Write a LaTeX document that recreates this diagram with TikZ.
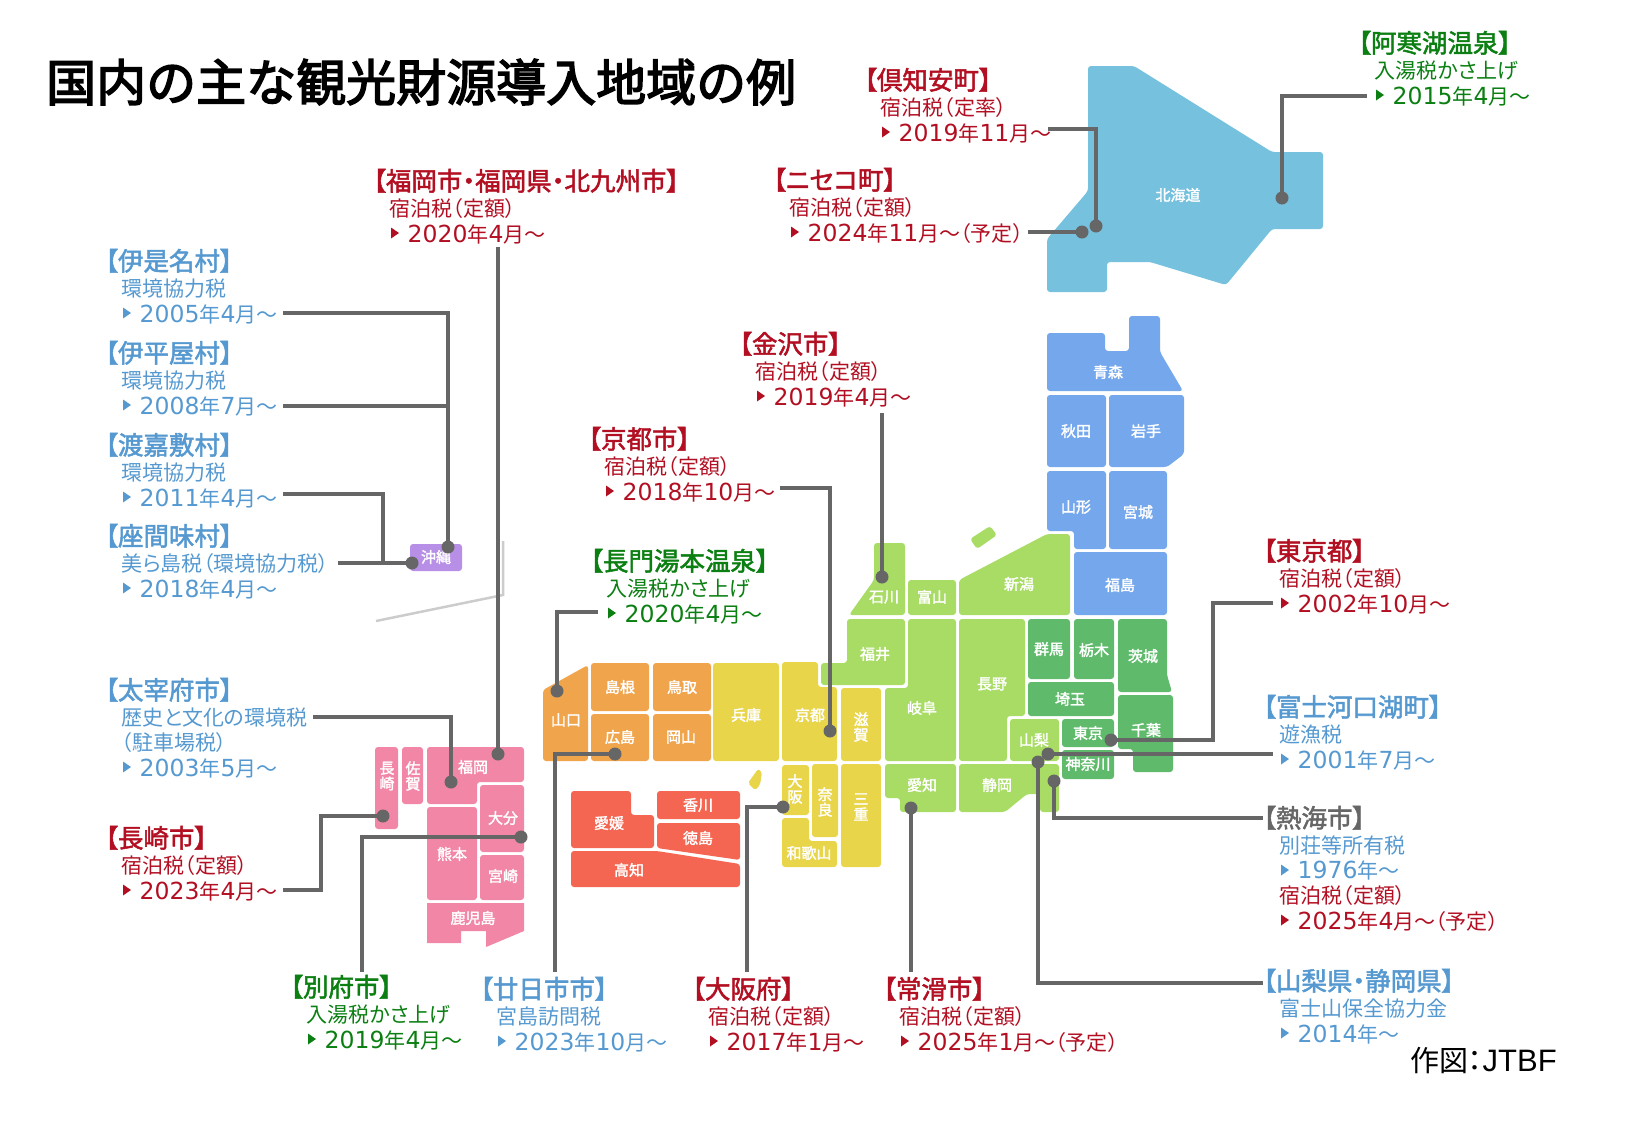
\documentclass[tikz,border=0pt]{standalone}
\usepackage{fontspec}
\setmainfont[RawFeature=+palt,BoldFont={Noto Sans CJK JP},BoldFeatures={FakeBold=2}]{Noto Sans CJK JP}
\newfontfamily\titlefont[FakeBold=3]{Noto Sans CJK JP}
\newfontfamily\dgfont{DejaVu Sans}
\newfontfamily\creditfont{Liberation Sans}
\definecolor{cblue}{HTML}{5599D0}
\definecolor{cred}{HTML}{B20F22}
\definecolor{cgreen}{HTML}{0B7F12}
\definecolor{cgray}{HTML}{666666}
\definecolor{hok}{HTML}{75C1DE}
\definecolor{toh}{HTML}{74A7EC}
\definecolor{chb}{HTML}{A8DC64}
\definecolor{knt}{HTML}{5FBB6B}
\definecolor{kin}{HTML}{E8D54A}
\definecolor{chg}{HTML}{F0A44C}
\definecolor{shk}{HTML}{F46552}
\definecolor{kyu}{HTML}{F186A6}
\definecolor{oki}{HTML}{B88FE6}
\newcommand\dg[1]{{\dgfont\fontsize{23.5}{25}\selectfont #1}}
\newcommand\trimark[3]{\fill[#1] ({#2+1},{#3-5.5}) -- ({#2+9},{#3}) -- ({#2+1},{#3+5.5}) -- cycle;}
\newcommand\blk[7]{%
  \node[hd,text=#4] (#1h) at ({#2-17},{#3-0.5}) {#5};
  \node[bd,text=#4] (#1b) at ({#2-0.5},{#3+25.3}) {#6};
  \node[bd,text=#4] (#1d) at ({#2+17.5},{#3+51}) {#7};
  \trimark{#4}{#2}{#3+42}}
\newcommand\pl[4]{\node[pref] (#1) at (#2,#3) {#4};}
\tikzset{
  hd/.style={anchor=base west,inner sep=0pt,font=\fontsize{25.5}{25}\selectfont\bfseries},
  bd/.style={anchor=base west,inner sep=0pt,font=\fontsize{21}{25}\selectfont},
  pref/.style={inner sep=0pt,text=white,align=center,font=\fontsize{15}{15.5}\selectfont\bfseries},
  dot/.style={circle,fill=cgray,inner sep=0pt,minimum size=13pt},
  conn/.style={draw=cgray,line width=3.1pt},
  reg/.style={rounded corners=3pt}
}
\begin{document}
\begin{tikzpicture}[x=1pt,y=-1pt]
\useasboundingbox (0,0) rectangle (1625,1125);
% Okinawa divider
\draw[draw=black!20,line width=2.5pt] (503,541) -- (503,595) -- (376,621);
% Hokkaido
\fill[hok,reg] (1088,66) -- (1134,66) -- (1272,152) -- (1323,152) -- (1323,229) -- (1272,229) -- (1226,285) -- (1150,262) -- (1107,262) -- (1107,292) -- (1047,292) -- (1047,239) -- (1088,191) -- cycle;
% Tohoku
\fill[toh,reg] (1047,333) -- (1105,333) -- (1105,351) -- (1129,351) -- (1129,316) -- (1160,316) -- (1160,352) -- (1183,391) -- (1047,391) -- cycle;
\fill[toh,reg] (1047,395) rectangle (1106,467);
\fill[toh,reg] (1109,395) -- (1184,395) -- (1184,454) -- (1167,467) -- (1109,467) -- cycle;
\fill[toh,reg] (1047,471) -- (1106,471) -- (1106,549) -- (1074,549) -- (1074,531) -- (1047,531) -- cycle;
\fill[toh,reg] (1109,471) rectangle (1167,549);
\fill[toh,reg] (1074,552) rectangle (1167,615);
% Chubu
\fill[chb,reg] (959,580) -- (1047,534) -- (1070,534) -- (1070,615) -- (959,615) -- cycle;
\fill[chb,reg] (970,539) -- (990,526) -- (997,535) -- (977,549) -- cycle;
\fill[chb,reg] (874,543) -- (905,543) -- (905,615) -- (849,615) -- (874,580) -- cycle;
\fill[chb,reg] (908,580) rectangle (956,615);
\fill[chb,reg] (847,619) -- (905,619) -- (905,685) -- (821,685) -- (821,663) -- (847,663) -- cycle;
\fill[chb,reg] (908,619) -- (956,619) -- (956,761) -- (885,761) -- (885,688) -- (908,688) -- cycle;
\fill[chb,reg] (959,619) -- (1025,619) -- (1025,716) -- (1007,716) -- (1007,761) -- (959,761) -- cycle;
\fill[chb,reg] (1010,719) rectangle (1059,761);
\fill[chb,reg] (885,764) -- (956,764) -- (956,812) -- (900,812) -- (900,798) -- (885,798) -- cycle;
\fill[chb,reg] (959,764) -- (1059,764) -- (1059,812) -- (1040,812) -- (1040,794) -- (1027,794) -- (1005,812) -- (959,812) -- cycle;
% Kanto
\fill[knt,reg] (1028,619) rectangle (1070,679);
\fill[knt,reg] (1074,619) rectangle (1114,679);
\fill[knt,reg] (1118,619) -- (1167,619) -- (1167,675) -- (1172,692) -- (1118,692) -- cycle;
\fill[knt,reg] (1028,682) rectangle (1114,716);
\fill[knt,reg] (1062,719) rectangle (1114,747);
\fill[knt,reg] (1062,750) rectangle (1114,779);
\fill[knt,reg] (1118,695) -- (1173,695) -- (1173,772) -- (1133,772) -- (1133,749) -- (1118,749) -- cycle;
% Kinki
\fill[kin,reg] (841,688) rectangle (881,761);
\fill[kin,reg] (841,764) rectangle (881,867);
\fill[kin,reg] (812,764) rectangle (838,837);
\fill[kin,reg] (713,663) rectangle (779,761);
\fill[kin,reg] (782,662) -- (818,662) -- (818,687) -- (837,687) -- (837,761) -- (782,761) -- cycle;
\fill[kin,reg] (782,765) rectangle (809,815);
\fill[kin,reg] (782,818) -- (809,818) -- (809,841) -- (837,841) -- (837,867) -- (782,867) -- cycle;
\fill[kin,rounded corners=2pt] (748,783) -- (758,769) -- (762,772) -- (760,785) -- (755,790) -- cycle;
% Chugoku
\fill[chg,reg] (543,690) -- (588,665) -- (588,761) -- (543,761) -- cycle;
\fill[chg,reg] (591,663) rectangle (649,711);
\fill[chg,reg] (653,663) rectangle (711,711);
\fill[chg,reg] (591,714) rectangle (649,761);
\fill[chg,reg] (653,714) rectangle (711,761);
% Shikoku
\fill[shk,reg] (571,791) -- (631,791) -- (631,815) -- (654,815) -- (654,848) -- (571,848) -- cycle;
\fill[shk,reg] (657,791) rectangle (740,819);
\fill[shk,reg] (657,823) -- (740,823) -- (740,860) -- (657,848) -- cycle;
\fill[shk,reg] (571,851) -- (657,851) -- (740,864) -- (740,887) -- (571,887) -- cycle;
% Kyushu
\fill[kyu,reg] (375,747) rectangle (398,829);
\fill[kyu,reg] (402,747) rectangle (423,804);
\fill[kyu,reg] (427,747) -- (524,747) -- (524,782) -- (477,782) -- (477,804) -- (427,804) -- cycle;
\fill[kyu,reg] (480,785) rectangle (524,852);
\fill[kyu,reg] (427,807) rectangle (477,900);
\fill[kyu,reg] (480,855) rectangle (524,900);
\fill[kyu] (427,903) -- (524,903) -- (524,931) -- (486,947) -- (486,931) -- (461,931) -- (461,943) -- (427,943) -- cycle;
% Okinawa
\fill[oki,reg] (410,544) rectangle (462,571);
% Prefecture names
\pl{hokkaido}{1178}{195}{北海道}
\pl{aomori}{1108}{372}{青森}
\pl{akita}{1076}{431}{秋田}
\pl{iwate}{1146}{431}{岩手}
\pl{yamagata}{1076}{507}{山形}
\pl{miyagi}{1138}{512}{宮城}
\pl{fukushima}{1120}{585}{福島}
\pl{niigata}{1019}{584}{新潟}
\pl{ishikawa}{884}{597}{石川}
\pl{toyama}{932}{597}{富山}
\pl{fukui}{875}{654}{福井}
\pl{gifu}{922}{708}{岐阜}
\pl{nagano}{992}{684}{長野}
\pl{yamanashi}{1034}{740}{山梨}
\pl{gunma}{1049}{649}{群馬}
\pl{tochigi}{1094}{650}{栃木}
\pl{ibaraki}{1143}{656}{茨城}
\pl{saitama}{1070}{699}{埼玉}
\pl{tokyo}{1088}{733}{東京}
\pl{kanagawa}{1088}{764}{神奈川}
\pl{chiba}{1146}{730}{千葉}
\pl{aichi}{922}{785}{愛知}
\pl{shizuoka}{997}{785}{静岡}
\pl{shiga}{861}{727}{滋\\賀}
\pl{mie}{861}{807}{三\\重}
\pl{nara}{825}{802}{奈\\良}
\pl{hyogo}{746}{715}{兵庫}
\pl{kyoto}{810}{715}{京都}
\pl{osaka}{795}{789}{大\\阪}
\pl{wakayama}{809}{853}{和歌山}
\pl{yamaguchi}{566}{720}{山口}
\pl{shimane}{620}{687}{島根}
\pl{tottori}{682}{687}{鳥取}
\pl{hiroshima}{620}{737}{広島}
\pl{okayama}{681}{737}{岡山}
\pl{ehime}{609}{823}{愛媛}
\pl{kagawa}{698}{805}{香川}
\pl{tokushima}{698}{838}{徳島}
\pl{kochi}{629}{870}{高知}
\pl{nagasaki}{387}{776}{長\\崎}
\pl{saga}{413}{776}{佐\\賀}
\pl{fukuoka}{473}{767}{福岡}
\pl{oita}{503}{818}{大分}
\pl{kumamoto}{452}{854}{熊本}
\pl{miyazaki}{503}{876}{宮崎}
\pl{kagoshima}{473}{918}{鹿児島}
\pl{okinawa}{436}{557}{沖縄}
% Title and credit
\node[anchor=base west,inner sep=0pt,text=black,font=\titlefont\fontsize{50}{50}\selectfont] (title) at (46,101) {国内の主な観光財源導入地域の例};
\node[anchor=base west,inner sep=0pt,text=black,font=\fontsize{29}{29}\selectfont] (credit) at (1410,1071) {作図：{\creditfont\fontsize{31}{31}\selectfont JTBF}};
% Label blocks
\blk{isena}{122}{271}{cblue}{【伊是名村】}{環境協力税}{\dg{2005}年\dg{4}月～}
\blk{ihei}{122}{363}{cblue}{【伊平屋村】}{環境協力税}{\dg{2008}年\dg{7}月～}
\blk{tokashiki}{122}{455}{cblue}{【渡嘉敷村】}{環境協力税}{\dg{2011}年\dg{4}月～}
\blk{zamami}{122}{546}{cblue}{【座間味村】}{美ら島税（環境協力税）}{\dg{2018}年\dg{4}月～}
% Dazaifu: four lines
\node[hd,text=cblue] (dazaifuh) at (105,699.5) {【太宰府市】};
\node[bd,text=cblue] (dazaifub) at (121.5,725.3) {歴史と文化の環境税};
\node[bd,text=cblue] (dazaifuc) at (121.5,750.5) {（駐車場税）};
\node[bd,text=cblue] (dazaifud) at (139.5,776) {\dg{2003}年\dg{5}月～};
\trimark{cblue}{122}{767}
\blk{nagasakic}{122}{848}{cred}{【長崎市】}{宿泊税（定額）}{\dg{2023}年\dg{4}月～}
\blk{beppu}{307}{997}{cgreen}{【別府市】}{入湯税かさ上げ}{\dg{2019}年\dg{4}月～}
\blk{hatsu}{497}{999}{cblue}{【廿日市市】}{宮島訪問税}{\dg{2023}年\dg{10}月～}
\blk{osakaf}{709}{999}{cred}{【大阪府】}{宿泊税（定額）}{\dg{2017}年\dg{1}月～}
\blk{tokonamec}{900}{999}{cred}{【常滑市】}{宿泊税（定額）}{\dg{2025}年\dg{1}月～（予定）}
\blk{fukuokac}{390}{191}{cred}{【福岡市・福岡県・北九州市】}{宿泊税（定額）}{\dg{2020}年\dg{4}月～}
\blk{kutchan}{881}{90}{cred}{【倶知安町】}{宿泊税（定率）}{\dg{2019}年\dg{11}月～}
\blk{niseko}{790}{190}{cred}{【ニセコ町】}{宿泊税（定額）}{\dg{2024}年\dg{11}月～（予定）}
\blk{akan}{1375}{53}{cgreen}{【阿寒湖温泉】}{入湯税かさ上げ}{\dg{2015}年\dg{4}月～}
\blk{kanazawa}{756}{354}{cred}{【金沢市】}{宿泊税（定額）}{\dg{2019}年\dg{4}月～}
\blk{kyotoc}{605}{449}{cred}{【京都市】}{宿泊税（定額）}{\dg{2018}年\dg{10}月～}
\blk{nagato}{607}{571}{cgreen}{【長門湯本温泉】}{入湯税かさ上げ}{\dg{2020}年\dg{4}月～}
\blk{tokyot}{1280}{561}{cred}{【東京都】}{宿泊税（定額）}{\dg{2002}年\dg{10}月～}
\blk{fujikawa}{1280}{717}{cblue}{【富士河口湖町】}{遊漁税}{\dg{2001}年\dg{7}月～}
% Atami: five lines
\node[hd,text=cgray] (atamih) at (1263,827.5) {【熱海市】};
\node[bd,text=cblue] (atamib) at (1279.5,853.5) {別荘等所有税};
\node[bd,text=cblue] (atamic) at (1297.5,878) {\dg{1976}年～};
\trimark{cblue}{1280}{870}
\node[bd,text=cred] (atamid) at (1279.5,903.5) {宿泊税（定額）};
\node[bd,text=cred] (atamie) at (1297.5,929) {\dg{2025}年\dg{4}月～（予定）};
\trimark{cred}{1280}{920}
\blk{fuji}{1280}{991}{cblue}{【山梨県・静岡県】}{富士山保全協力金}{\dg{2014}年～}
% Connector dots
\node[dot] (dAkan) at (1282,198) {};
\node[dot] (dKutchan) at (1096,226) {};
\node[dot] (dNiseko) at (1082,232) {};
\node[dot] (dKanazawa) at (882,577) {};
\node[dot] (dKyoto) at (830,731) {};
\node[dot] (dNagato) at (557,691) {};
\node[dot] (dHatsu) at (615,754) {};
\node[dot] (dOsaka) at (783,807) {};
\node[dot] (dTokoname) at (911,808) {};
\node[dot] (dTokyo) at (1111,740) {};
\node[dot] (dFujikawa) at (1048,754) {};
\node[dot] (dFuji) at (1038,762) {};
\node[dot] (dAtami) at (1054,781) {};
\node[dot] (dFukuoka) at (498,754) {};
\node[dot] (dDazaifu) at (451,782) {};
\node[dot] (dNagasaki) at (383,816) {};
\node[dot] (dBeppu) at (521,837) {};
\node[dot] (dOkiA) at (448,547) {};
\node[dot] (dOkiB) at (412,563) {};
% Connector free ends
\coordinate (cIsena) at (283,313);
\coordinate (cIhei) at (283,406);
\coordinate (cIheiJ) at (448,406);
\coordinate (cTokashiki) at (283,494);
\coordinate (cTokashikiJ) at (383,563);
\coordinate (cZamami) at (338,563);
\coordinate (cDazaifu) at (313,717);
\coordinate (cNagasaki) at (283,890);
\coordinate (cNagasakiM) at (321,816);
\coordinate (cBeppu) at (362,972);
\coordinate (cHatsu) at (555,972);
\coordinate (cOsaka) at (747,972);
\coordinate (cTokoname) at (911,972);
\coordinate (cFuji) at (1263,983);
\coordinate (cAtami) at (1263,818);
\coordinate (cFujikawa) at (1273,754);
\coordinate (cTokyo) at (1273,603);
\coordinate (cTokyoM) at (1213,740);
\coordinate (cKyoto) at (780,488);
\coordinate (cKanazawa) at (882,413);
\coordinate (cNagato) at (598,612);
\coordinate (cFukuoka) at (498,247);
\coordinate (cKutchan) at (1048,129);
\coordinate (cNiseko) at (1028,232);
\coordinate (cAkan) at (1367,96);
% Connectors
\draw[conn] (cAkan) -| (dAkan.center);
\draw[conn] (cKutchan) -| (dKutchan.center);
\draw[conn] (cNiseko) -- (dNiseko.center);
\draw[conn] (cKanazawa) -- (dKanazawa.center);
\draw[conn] (cKyoto) -| (dKyoto.center);
\draw[conn] (cNagato) -| (dNagato.center);
\draw[conn] (cHatsu) |- (dHatsu.center);
\draw[conn] (cOsaka) |- (dOsaka.center);
\draw[conn] (cTokoname) -- (dTokoname.center);
\draw[conn] (cTokyo) -| (cTokyoM) -- (dTokyo.center);
\draw[conn] (cFujikawa) -- (dFujikawa.center);
\draw[conn] (cFuji) -| (dFuji.center);
\draw[conn] (cAtami) -| (dAtami.center);
\draw[conn] (cFukuoka) -- (dFukuoka.center);
\draw[conn] (cDazaifu) -| (dDazaifu.center);
\draw[conn] (cNagasaki) -| (cNagasakiM) -- (dNagasaki.center);
\draw[conn] (cBeppu) |- (dBeppu.center);
\draw[conn] (cIsena) -| (dOkiA.center);
\draw[conn] (cIhei) -- (cIheiJ);
\draw[conn] (cTokashiki) -| (cTokashikiJ);
\draw[conn] (cZamami) -- (dOkiB.center);
\end{tikzpicture}
\end{document}
